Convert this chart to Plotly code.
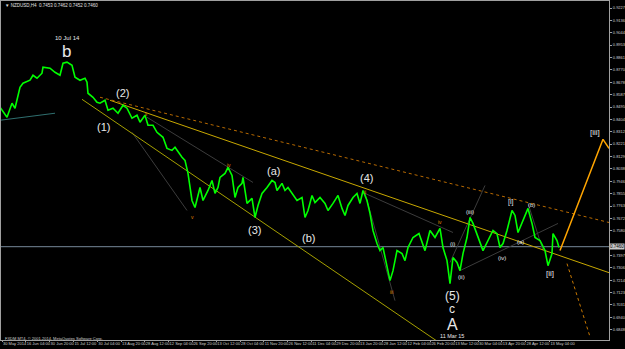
import plotly.graph_objects as go

# ---------------- data ----------------
bar_t = [0, 7, 12, 15, 20, 23, 30, 33, 37, 42, 43, 50, 55, 60, 63, 67, 72, 75, 80, 85,
         87, 88, 93, 97, 100, 105, 108, 113, 118, 123, 127, 132, 137, 140, 145, 148, 153, 157, 163, 167,
         172, 175, 182, 185, 188, 192, 195, 200, 203, 208, 212, 215, 218, 220, 225, 228, 232, 235, 238, 242,
         243, 247, 252, 255, 258, 262, 267, 272, 275, 277, 282, 285, 288, 292, 297, 302, 305, 308, 312, 315,
         320, 325, 328, 333, 338, 342, 345, 348, 353, 357, 360, 363, 367, 370, 373, 377, 380, 383, 387, 390,
         393, 397, 402, 405, 408, 413, 419, 425, 430, 435, 440, 443, 447, 450, 453, 457, 460, 463, 467, 470,
         473, 478, 483, 488, 493, 497, 500, 503, 507, 512, 515, 518, 523, 528, 532, 535, 540, 545, 548, 552,
         553, 557, 559]
bar_price = [0.8493, 0.8419, 0.8523, 0.8486, 0.8641, 0.8671, 0.8693, 0.8730, 0.8708, 0.8745,
             0.8790, 0.8782, 0.8752, 0.8730, 0.8819, 0.8827, 0.8804, 0.8715, 0.8693, 0.8708,
             0.8678, 0.8597, 0.8567, 0.8530, 0.8523, 0.8545, 0.8471, 0.8486, 0.8449, 0.8508,
             0.8486, 0.8412, 0.8434, 0.8382, 0.8434, 0.8360, 0.8360, 0.8308, 0.8271, 0.8189,
             0.8174, 0.8197, 0.8123, 0.8100, 0.8004, 0.7804, 0.7752, 0.7900, 0.7804, 0.7878,
             0.7952, 0.7856, 0.7900, 0.7974, 0.8004, 0.8049, 0.7989, 0.7826, 0.7900, 0.7930,
             0.7974, 0.7782, 0.7819, 0.7678, 0.7767, 0.7856, 0.7900, 0.7952, 0.7937, 0.7878,
             0.7930, 0.7878, 0.7900, 0.7856, 0.7804, 0.7826, 0.7678, 0.7730, 0.7841, 0.7789,
             0.7826, 0.7782, 0.7730, 0.7782, 0.7841, 0.7745, 0.7693, 0.7767, 0.7826, 0.7856,
             0.7782, 0.7878, 0.7804, 0.7708, 0.7582, 0.7485, 0.7433, 0.7456, 0.7308, 0.7211,
             0.7285, 0.7433, 0.7411, 0.7359, 0.7456, 0.7530, 0.7559, 0.7433, 0.7582, 0.7530,
             0.7597, 0.7456, 0.7359, 0.7189, 0.7382, 0.7345, 0.7285, 0.7411, 0.7530, 0.7678,
             0.7634, 0.7530, 0.7433, 0.7508, 0.7582, 0.7559, 0.7456, 0.7485, 0.7582, 0.7730,
             0.7693, 0.7567, 0.7656, 0.7745, 0.7634, 0.7530, 0.7508, 0.7433, 0.7322, 0.7411,
             0.7559, 0.7508, 0.7456]

date_labels = ["30 May 2014", "16 Jun 04:00", "30 Jun 20:00", "15 Jul 12:00", "30 Jul 04:00",
               "13 Aug 20:00", "28 Aug 12:00", "12 Sep 04:00", "26 Sep 20:00", "13 Oct 12:00",
               "28 Oct 04:00", "11 Nov 20:00", "26 Nov 12:00", "11 Dec 04:00", "29 Dec 20:00",
               "13 Jan 20:00", "28 Jan 12:00", "12 Feb 04:00", "26 Feb 20:00", "13 Mar 12:00",
               "30 Mar 04:00", "13 Apr 20:00", "28 Apr 12:00", "13 May 04:00"]

price_ticks = [0.9227, 0.9136, 0.9044, 0.8953, 0.8861, 0.8770, 0.8678, 0.8587, 0.8495, 0.8404,
               0.8312, 0.8221, 0.8129, 0.8038, 0.7946, 0.7855, 0.7763, 0.7672, 0.7580,
               0.7397, 0.7306, 0.7214, 0.7123, 0.7031, 0.6940, 0.6848, 0.6757]

bid_price = 0.7462
bid_label = "0.7460"
title_text = "▼ NZDUSD,H4  0.7453 0.7462 0.7452 0.7460"
copyright_text = "FXDM MT4, © 2001-2014, MetaQuotes Software Corp."

# trend / wave lines: (t, price) end points
teal_line = [(0, 0.8397), (55, 0.8449)]
lower_channel = [(82, 0.8552), (438, 0.6759)]
upper_channel = [(110, 0.8545), (609, 0.7270)]
orange_dotted_top = [(100, 0.8567), (609, 0.7641)]
orange_projection = [(560, 0.7434), (603, 0.8256), (609, 0.8189)]
orange_dotted_down = [(567, 0.7337), (590, 0.6796)]
gray_lines = [
    [(132, 0.8308), (187, 0.7730)],
    [(147, 0.8419), (253, 0.7937)],
    [(365, 0.7856), (453, 0.7567)],
    [(365, 0.7856), (395, 0.7063)],
    [(450, 0.7345), (485, 0.7915)],
    [(460, 0.7285), (558, 0.7634)],
    [(528, 0.7782), (543, 0.7434)],
]

# ---------------- figure ----------------
fig = go.Figure()

def seg(points, color, width, dash="solid"):
    fig.add_trace(go.Scatter(x=[p[0] for p in points], y=[p[1] for p in points],
                             mode="lines", line=dict(color=color, width=width, dash=dash),
                             hoverinfo="skip", showlegend=False))

seg([(1, bid_price), (609, bid_price)], "#778899", 1)
seg(teal_line, "#2f6f6f", 1)
for g in gray_lines:
    seg(g, "#3c3c3c", 1)
seg(lower_channel, "#a6a000", 1)
seg(upper_channel, "#c8a800", 1)
seg(orange_dotted_top, "#b86a00", 1, "dot")
seg(orange_dotted_down, "#c87800", 1, "dot")

fig.add_trace(go.Scatter(x=bar_t, y=bar_price, mode="lines",
                         line=dict(color="#00ff00", width=1.6), hoverinfo="skip", showlegend=False))

seg(orange_projection, "#ffa500", 1.5)

# ---------------- text ----------------
WHITE = "#e8e8e8"
ORANGE = "#e08000"
labels = [
    ("10 Jul 14", 67, 0.9004, 6, WHITE),
    ("b", 66, 0.8908, 17, WHITE),
    ("(2)", 122, 0.8597, 11, WHITE),
    ("(1)", 103, 0.8345, 11, WHITE),
    ("(a)", 273, 0.8019, 11, WHITE),
    ("(3)", 254, 0.7589, 11, WHITE),
    ("(b)", 308, 0.7530, 11, WHITE),
    ("(4)", 366, 0.7967, 11, WHITE),
    ("(5)", 452, 0.7100, 12, WHITE),
    ("c", 452, 0.7001, 12, WHITE),
    ("A", 452, 0.6890, 16, WHITE),
    ("11 Mar 15", 452, 0.6805, 5.5, WHITE),
    ("[i]", 511, 0.7789, 7, WHITE),
    ("(b)", 531, 0.7774, 6, WHITE),
    ("(iii)", 470, 0.7715, 6, WHITE),
    ("(i)", 452, 0.7485, 6, WHITE),
    ("(a)", 520, 0.7500, 6, WHITE),
    ("(iv)", 502, 0.7382, 6, WHITE),
    ("(ii)", 461, 0.7241, 6, WHITE),
    ("[ii]", 550, 0.7263, 8, WHITE),
    ("[iii]", 595, 0.8308, 8, WHITE),
    ("ii", 146, 0.8441, 5, ORANGE),
    ("v", 192, 0.7685, 5, ORANGE),
    ("iv", 229, 0.8063, 5, ORANGE),
    ("ii", 365, 0.7863, 5, ORANGE),
    ("iii", 391, 0.7130, 5, ORANGE),
    ("iv", 440, 0.7648, 5, ORANGE),
]
for txt, x, y, size, col in labels:
    fig.add_annotation(x=x, y=y, text=txt, showarrow=False, xanchor="center", yanchor="middle",
                       font=dict(family="Liberation Sans, Arial", size=size, color=col), borderpad=0)

fig.add_annotation(x=3, y=0.9249, text=title_text, showarrow=False, xanchor="left", yanchor="middle",
                   font=dict(family="Liberation Sans", size=4.5, color="#e0e0e0"))
fig.add_annotation(x=3, y=0.6785, text=copyright_text, showarrow=False, xanchor="left", yanchor="middle",
                   font=dict(family="Liberation Sans", size=4, color="#d0d0d0"))
fig.add_annotation(x=1, xref="paper", y=bid_price, text=bid_label, showarrow=False,
                   xanchor="left", yanchor="middle", bgcolor="#c8c8c8",
                   font=dict(family="Liberation Sans", size=4.5, color="#000000"), borderpad=0)

fig.update_layout(
    width=625, height=349, template="none",
    margin=dict(l=1, r=16, t=1, b=9),
    paper_bgcolor="#000000", plot_bgcolor="#000000",
    showlegend=False,
    xaxis=dict(range=[1, 609], tickvals=[2 + 23.8 * k for k in range(len(date_labels))],
               ticktext=date_labels, ticks="outside", ticklen=1, tickcolor="#a0a0a0",
               ticklabelposition="outside right", ticklabelstandoff=-1, tickangle=0,
               tickfont=dict(family="Liberation Sans", size=4, color="#d0d0d0"),
               showgrid=False, zeroline=False, showline=True, linecolor="#a0a0a0",
               linewidth=1, mirror=True, automargin=False),
    yaxis=dict(range=[0.6772, 0.9279], side="right", tickvals=price_ticks,
               ticktext=[f"{v:.4f}" for v in price_ticks], ticks="outside", ticklen=2,
               tickcolor="#a0a0a0", tickfont=dict(family="Liberation Sans", size=4, color="#d0d0d0"),
               showgrid=False, zeroline=False, showline=True, linecolor="#a0a0a0",
               linewidth=1, mirror=True, automargin=False),
)

fig.write_html("out.html")
